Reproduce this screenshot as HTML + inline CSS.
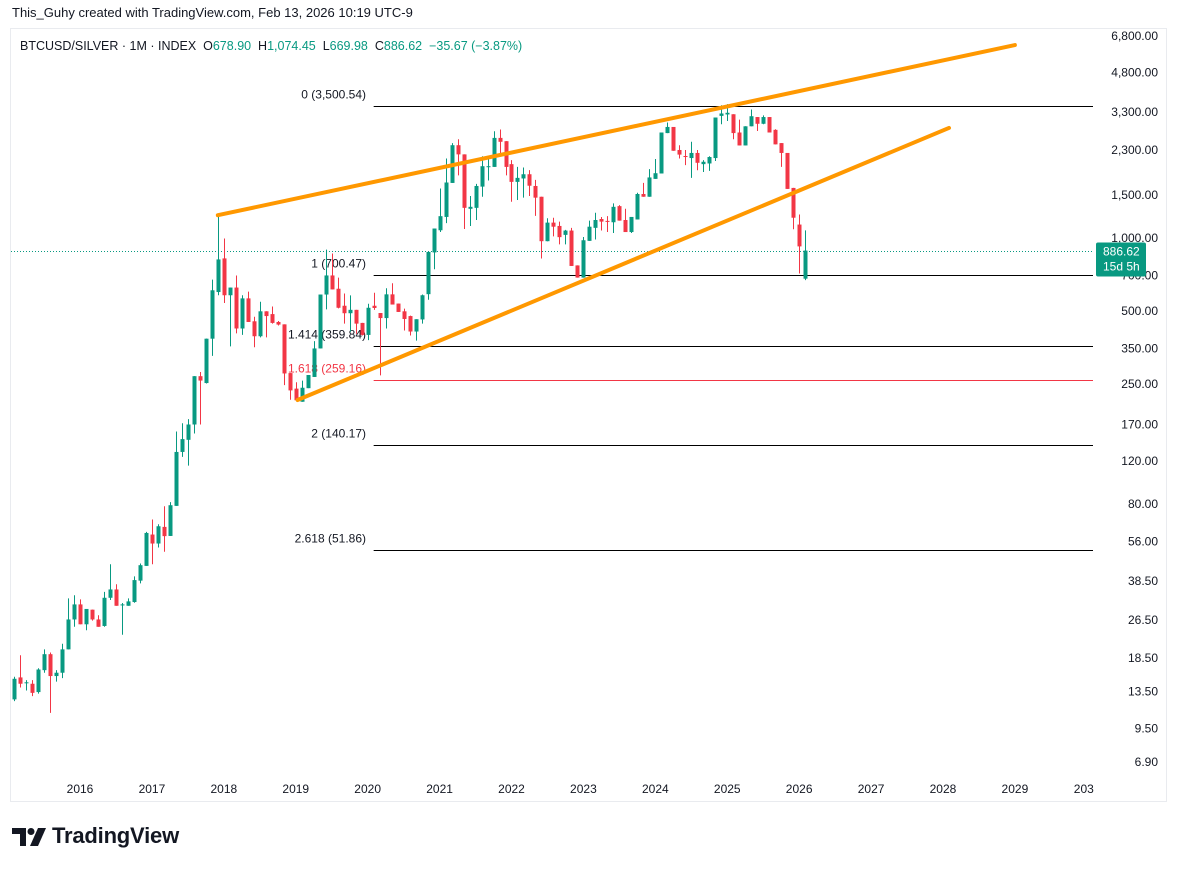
<!DOCTYPE html>
<html><head><meta charset="utf-8"><style>
body{margin:0;background:#fff;width:1178px;height:870px;overflow:hidden;font-family:"Liberation Sans",sans-serif;color:#131722}
#hdr{position:absolute;left:12px;top:5px;font-size:13px;color:#131722}
#frame{position:absolute;left:10px;top:28px;width:1157px;height:774px;border:1px solid #e9ebef;box-sizing:border-box}
#legend{position:absolute;left:20px;top:39px;font-size:12.5px;color:#131722}
#legend .g{color:#089981}
#logo{position:absolute;left:52px;top:823px;font-size:22px;font-weight:bold;color:#131722;letter-spacing:-0.2px}
#logoicon{position:absolute;left:12px;top:827px}
svg{position:absolute;left:0;top:0}
</style></head><body>
<div id="hdr">This_Guhy created with TradingView.com, Feb 13, 2026 10:19 UTC-9</div>
<div id="frame"></div>
<svg id="chart" width="1178" height="870"></svg>
<div id="legend">BTCUSD/SILVER · 1M · INDEX &nbsp;O<span class="g">678.90</span> &nbsp;H<span class="g">1,074.45</span> &nbsp;L<span class="g">669.98</span> &nbsp;C<span class="g">886.62</span> &nbsp;<span class="g">−35.67 (−3.87%)</span></div>
<svg id="logoicon" width="36" height="20" viewBox="0 0 36 20" style="position:absolute;left:12px;top:828px">
<path d="M0 0H14V18H8V6H0Z" fill="#131722"/><circle cx="19" cy="3.5" r="3.5" fill="#131722"/><path d="M26 0H34L26 18H18Z" fill="#131722"/></svg>
<div id="logo">TradingView</div>
<script>
// month index 0 = Jan 2016; first candle Feb 2015
const startMonth = -11;
const opens=[12.5,15.4,14.6,14.5,13.4,16.5,19.2,15.6,16.1,20.1,26.7,30.8,25.5,29.3,26.7,25.1,32.8,35.5,30.8,30.4,31.5,38.6,44.4,59.8,54.9,64.3,59.0,78.5,131,147,170,269,252,384,598,823,580,624,423,563,453,393,498,485,450,440,277,239,211,240,267,350,584,700,617,525,489,505,446,398,525,490,467,585,536,498,476,411,461,586,871,1075,1220,1685,2411,2210,1318,1330,1627,1957,1962,2584,2505,2014,1702,1758,1830,1637,1478,969,1156,1120,1029,1072,770,686,972,1100,1196,1175,1160,1352,1185,1057,1191,1517,1478,1751,1843,2705,2867,2304,2176,2134,2240,2014,2027,2134,3185,3228,3235,2720,2405,2885,3150,2955,3150,2790,2460,2240,1607,1135,678.90];
const highs=[15.5,19.0,15.0,15.0,16.8,20.1,19.5,16.5,21.2,32.6,33.6,32.3,29.5,29.3,27.8,34.7,45.1,37.3,31.2,32.6,40.2,45.4,61.3,69.0,65.9,78.2,81.3,159,172,179,269,280,384,673,1240,994,624,700,580,600,473,545,498,521,454,440,277,254,258,272,375,584,895,862,686,590,579,505,446,535,594,490,620,650,536,511,478,462,584,875,1093,1598,2124,2460,2550,2210,1488,1670,2170,2180,2753,2800,2505,2093,1962,1951,1902,1735,1478,1205,1211,1167,1079,1100,770,1009,1178,1270,1220,1229,1387,1365,1318,1220,1535,1685,1920,2115,2720,2990,2867,2411,2304,2490,2304,2093,2170,3136,3525,3560,3235,3075,2885,3385,3150,3200,3150,2805,2460,2240,1607,1248,1074.45];
const lows=[12.3,14.0,13.6,12.9,13.2,16.1,11.0,14.8,15.3,20.1,24.9,25.5,24.1,26.4,24.9,24.9,32.1,30.4,23.1,30.4,31.3,37.6,44.4,45.1,52.9,50.8,59.0,78.5,125,115,156,170,251,326,580,539,357,404,398,450,354,389,389,443,435,247,215,214,211,240,267,350,507,613,512,443,410,402,396,379,505,271,423,531,495,415,396,377,443,556,742,1057,1150,1685,1810,1088,1120,1185,1478,1725,1962,2225,1810,1410,1433,1465,1488,1232,822,969,1014,940,940,766,686,686,972,985,1072,1057,1047,1178,1057,1047,1191,1478,1478,1751,1843,2705,2287,2124,1995,1768,1900,1870,1890,2075,2940,3033,2550,2405,2405,2885,2760,2940,2720,2430,1962,1592,1085,713,669.98];
const closes=[15.2,14.5,14.7,13.3,16.6,19.2,15.6,16.1,20.1,26.7,30.8,25.5,29.5,26.7,24.9,32.8,35.5,30.4,30.8,31.7,38.8,44.7,60.7,54.9,64.7,58.9,79.0,131,148,170,269,258,384,608,815,580,624,423,563,450,393,498,476,446,439,276,235,214,241,272,350,584,700,613,515,489,505,443,398,515,514,467,585,531,495,463,411,462,580,875,1093,1229,1692,2411,2210,1330,1343,1637,1975,1975,2584,2490,1962,1702,1768,1830,1641,1465,969,1156,1112,1007,1072,766,686,978,1112,1185,1167,1167,1343,1178,1057,1220,1517,1478,1775,1848,2720,2867,2287,2205,2155,2240,2040,2060,2155,3136,3258,3280,2705,2405,2885,3175,2955,3150,2720,2430,2240,1592,1211,922.29,886.62];
const priceTicks=[6800,4800,3300,2300,1500,1000,700,500,350,250,170,120,80,56,38.5,26.5,18.5,13.5,9.5,6.9];
const yearLabels=["2016","2017","2018","2019","2020","2021","2022","2023","2024","2025","2026","2027","2028","2029","203"];
const fibRatios=["0","1","1.414","1.618","2","2.618"];
const fibPrices=[3500.54,700.47,359.84,259.16,140.17,51.86];
const fibStartMonth=49;
// trendlines [month, price]
const upperLine=[[23,1240],[156,6240]];
const lowerLine=[[36.3,214.5],[145,2840]];
const lastPrice=886.62;

const svg=document.getElementById('chart');
const NS='http://www.w3.org/2000/svg';
const plotRight=1093;
function xOf(m){return 80+m*5.993;}
function yOf(p){return 36+(Math.log10(6800)-Math.log10(p))*242.5;}
function mk(tag,at,parent){const e=document.createElementNS(NS,tag);for(const k in at)e.setAttribute(k,at[k]);(parent||svg).appendChild(e);return e;}
function fmt(v){return v.toLocaleString('en-US',{minimumFractionDigits:2,maximumFractionDigits:2});}

// price axis
priceTicks.forEach(p=>{
  const t=mk('text',{x:1158,y:yOf(p)+4,'font-size':12,fill:'#131722','text-anchor':'end','font-family':'Liberation Sans, sans-serif'});
  t.textContent=fmt(p);
  
  
});
// time axis
yearLabels.forEach((y,i)=>{
  const t=mk('text',{x:i===14?xOf(i*12)-3:xOf(i*12),y:793,'font-size':12,fill:'#131722','text-anchor':'middle','font-family':'Liberation Sans, sans-serif'});
  t.textContent=y;
  
  
});
// fib levels
fibPrices.forEach((p,i)=>{
  const y=Math.round(yOf(p))+0.5;
  const col=i===3?'#f23645':'#000';
  const l=mk('line',{x1:xOf(fibStartMonth),x2:plotRight,y1:y,y2:y,stroke:col,'stroke-width':1});
  
  
  const t=mk('text',{x:366,y:y-8,'font-size':12,fill:i===3?'#f23645':'#131722','text-anchor':'end','font-family':'Liberation Sans, sans-serif'});
  t.textContent=fibRatios[i]+' ('+fmt(p)+')';
  
  
});
// last price dotted line
const ly=Math.round(yOf(lastPrice))+0.5;
const dl=mk('line',{x1:11,x2:plotRight,y1:ly,y2:ly,stroke:'#089981','stroke-width':1,'stroke-dasharray':'1,2'});


// candles
closes.forEach((c,i)=>{
  const o=opens[i],h=highs[i],l=lows[i];
  const x=Math.round(xOf(startMonth+i));
  const col=c>=o?'#089981':'#f23645';
  const g=mk('g',{});
  
  
  mk('line',{x1:x+0.5,x2:x+0.5,y1:yOf(h),y2:yOf(l),stroke:col,'stroke-width':1},g);
  const yt=yOf(Math.max(o,c)),yb=yOf(Math.min(o,c));
  mk('rect',{x:x-1.5,y:yt,width:4,height:Math.max(1,yb-yt),fill:col},g);
});
// trendlines
[upperLine,lowerLine].forEach((ln,i)=>{
  const l=mk('line',{x1:xOf(ln[0][0]),y1:yOf(ln[0][1]),x2:xOf(ln[1][0]),y2:yOf(ln[1][1]),stroke:'#ff9800','stroke-width':4,'stroke-linecap':'round'});
  
  
});
// last price label
const lb=mk('g',{});


mk('rect',{x:1096,y:ly-9,width:50,height:34,fill:'#089981',rx:2},lb);
const t1=mk('text',{x:1103,y:ly+4,'font-size':12,fill:'#fff','font-family':'Liberation Sans, sans-serif'},lb);
t1.textContent=fmt(lastPrice);
const t2=mk('text',{x:1103,y:ly+19,'font-size':12,fill:'#fff','font-family':'Liberation Sans, sans-serif'},lb);
t2.textContent='15d 5h';
</script>
</body></html>
